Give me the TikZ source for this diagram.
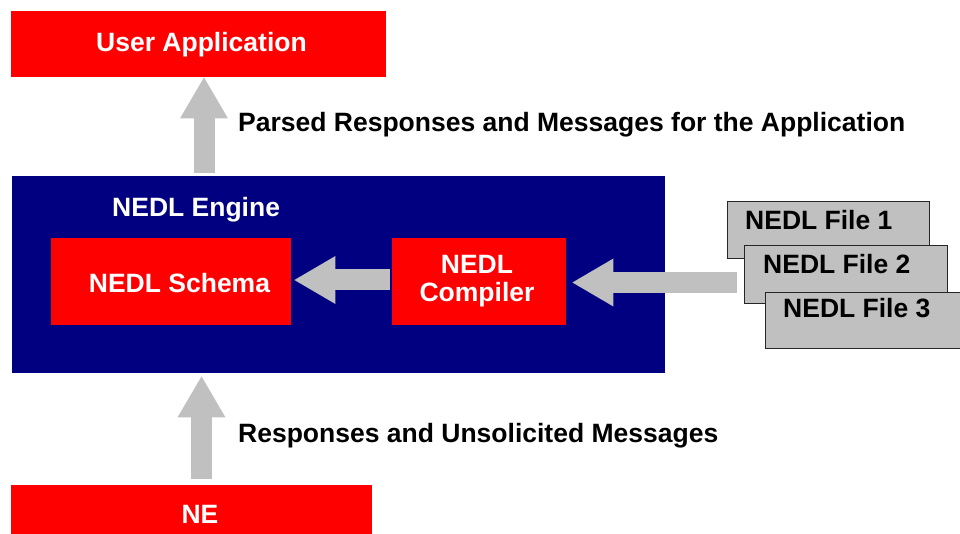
\documentclass[tikz,border=0pt]{standalone}
\usepackage{fontspec}
\setmainfont{Liberation Sans}
\usetikzlibrary{arrows.meta}
\definecolor{boxred}{RGB}{255,0,0}
\definecolor{enginenavy}{RGB}{0,0,128}
\definecolor{flowgray}{RGB}{192,192,192}
\definecolor{filegray}{RGB}{192,192,192}
\begin{document}
\begin{tikzpicture}[x=1pt,y=-1pt,
  redbox/.style={fill=boxred, inner sep=0pt, anchor=north west},
  lbl/.style={font=\fontsize{26.5}{28}\selectfont\bfseries, inner sep=0pt},
  whitelbl/.style={lbl, text=white},
  filebox/.style={fill=filegray, draw=black!85, line width=1.3pt, inner sep=0pt,
    anchor=north west, minimum width=202pt, minimum height=57pt},
  blockarrow/.style={draw=flowgray, line width=21pt,
    -{Triangle[width=48pt,length=41pt,line width=0pt]}}]
\clip (0,0) rectangle (960,534);

% application on top
\node[redbox, minimum width=375pt, minimum height=66pt] (ua) at (11,11) {};
\node[whitelbl, anchor=base] at (201.5,51.5) {User Application};

% the engine with schema and compiler
\node[fill=enginenavy, inner sep=0pt, anchor=north west,
      minimum width=653pt, minimum height=197pt] (engine) at (12,176) {};
\node[whitelbl, anchor=base west] at (112,216.5) {NEDL Engine};
\node[redbox, minimum width=240pt, minimum height=87pt] (schema) at (51,238) {};
\node[whitelbl, anchor=base] at (179.5,292.5) {NEDL Schema};
\node[redbox, minimum width=174pt, minimum height=87pt] (compiler) at (392,238) {};
\node[whitelbl, align=center] at (477,281.5) {NEDL\\Compiler};

% network element
\node[redbox, minimum width=361pt, minimum height=60pt] (ne) at (11,485) {};
\node[whitelbl, anchor=base] at (200,523.3) {NE};

% stacked definition files
\node[filebox] (f1) at (727,201) {};
\node[lbl, anchor=base west] at (745,230) {NEDL File 1};
\node[filebox, minimum width=203pt, minimum height=58pt] (f2) at (744,245) {};
\node[lbl, anchor=base west] at (763,273.3) {NEDL File 2};
\node[filebox, minimum width=203pt, minimum height=56pt] (f3) at (765,292) {};
\node[lbl, anchor=base west] at (783,317.7) {NEDL File 3};

% block arrows
\coordinate (up1tail) at (204,173);
\draw[blockarrow] (up1tail) -- (ua.south -| up1tail);
\coordinate (up2tail) at (201.5,479);
\draw[blockarrow] (up2tail) -- ([yshift=-3pt]engine.south -| up2tail);
\coordinate (l1tail) at (390,280);
\draw[blockarrow] (l1tail) -- ([xshift=3pt]schema.east |- l1tail);
\coordinate (l2tail) at (737,282.5);
\draw[blockarrow] (l2tail) -- ([xshift=6pt]compiler.east |- l2tail);

% flow labels
\node[lbl, anchor=base west] at (238,131.5) {Parsed Responses and Messages for the Application};
\node[lbl, anchor=base west] at (238,442) {Responses and Unsolicited Messages};
\end{tikzpicture}
\end{document}
